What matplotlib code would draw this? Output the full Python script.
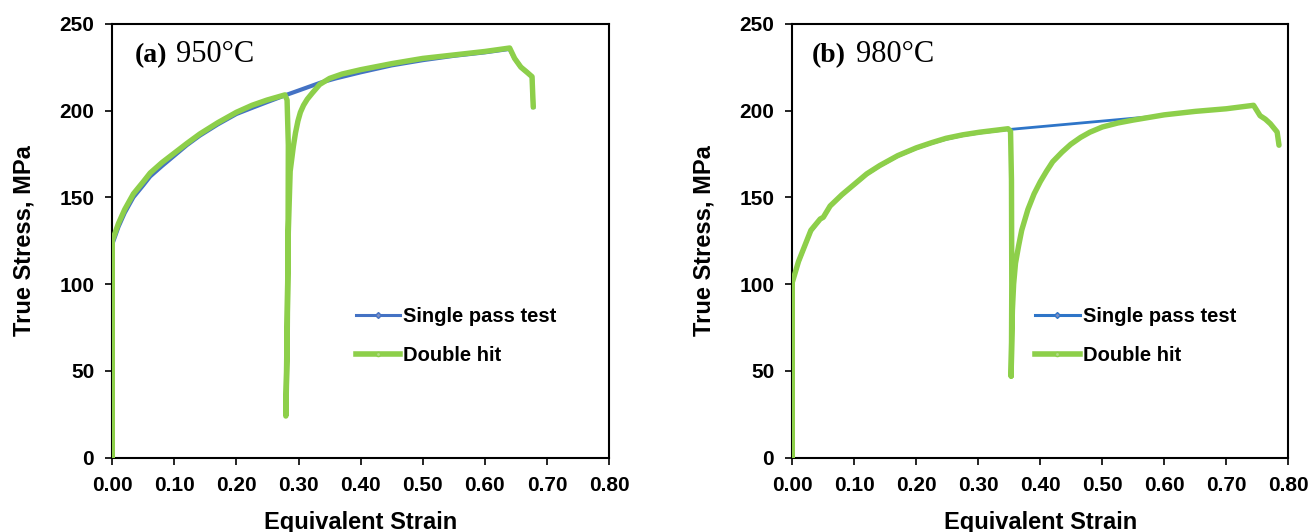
import matplotlib
matplotlib.use("Agg")
import matplotlib.pyplot as plt
from matplotlib.lines import Line2D

# ---------------- data ----------------
# (a) 950 C
single_a_strain = [0, 0, 0.005, 0.01, 0.02, 0.034, 0.05, 0.061, 0.08, 0.10, 0.12, 0.141,
                   0.17, 0.20, 0.225, 0.249, 0.278, 0.30, 0.335, 0.36, 0.40, 0.45, 0.50,
                   0.55, 0.60, 0.64, 0.648, 0.658, 0.668, 0.676, 0.678]
single_a_stress = [0, 123, 128, 133, 141, 150, 157, 162, 168, 174, 180, 185.5,
                   192, 198, 201.5, 204.8, 208.7, 211.5, 216, 218.5, 222, 226, 229,
                   231.5, 233.5, 235.5, 230, 225, 222, 219.5, 202]

double_a_strain = [0, 0, 0.005, 0.01, 0.02, 0.034, 0.05, 0.061, 0.08, 0.10, 0.12, 0.141,
                   0.17, 0.20, 0.225, 0.249, 0.278, 0.2815, 0.2835, 0.283, 0.2815, 0.2795,
                   0.281, 0.2835, 0.2865, 0.2915, 0.295, 0.299, 0.303, 0.308, 0.314,
                   0.322, 0.334, 0.35, 0.37, 0.40, 0.45, 0.50, 0.55, 0.60, 0.62, 0.64,
                   0.648, 0.658, 0.668, 0.676, 0.678]
double_a_stress = [0, 125, 130, 135, 143, 152, 159, 164, 170, 175.5, 181, 186.5,
                   193, 199, 203, 206, 209, 206, 180, 120, 60, 24,
                   60, 130, 165, 179, 187, 194, 199, 203, 206.5,
                   210, 215, 218.5, 221, 223.5, 227, 230, 232, 234, 235, 236,
                   230, 225, 222, 219.5, 202]

# (b) 980 C
single_b_strain = [0, 0, 0.005, 0.01, 0.02, 0.03, 0.045, 0.05, 0.061, 0.08, 0.10, 0.12,
                   0.141, 0.17, 0.20, 0.225, 0.248, 0.275, 0.302, 0.325, 0.348, 0.58,
                   0.62, 0.66, 0.70, 0.744, 0.7545, 0.763, 0.771, 0.782, 0.785]
single_b_stress = [0, 100, 106, 112, 121, 130, 137, 138, 144.4, 151, 157, 163,
                   167.8, 173.5, 178, 181, 183.4, 185.5, 187, 188, 189, 196.5,
                   198.5, 200, 201, 203, 197, 195, 192.4, 187.6, 180]

double_b_strain = [0, 0, 0.005, 0.01, 0.02, 0.03, 0.045, 0.05, 0.061, 0.08, 0.10, 0.12,
                   0.141, 0.17, 0.20, 0.225, 0.248, 0.275, 0.302, 0.325, 0.348, 0.352,
                   0.3535, 0.354, 0.3535, 0.353, 0.3535, 0.355, 0.357, 0.36, 0.365,
                   0.37, 0.38, 0.39, 0.40, 0.41, 0.42, 0.435, 0.449, 0.465, 0.48,
                   0.50, 0.525, 0.55, 0.60, 0.65, 0.70, 0.744, 0.7545, 0.763, 0.771,
                   0.782, 0.785]
double_b_stress = [0, 101, 107, 113, 122, 131, 137.5, 138.5, 145, 151.5, 157.5, 163.5,
                   168.3, 174, 178.5, 181.5, 184, 186, 187.5, 188.5, 189.5, 188,
                   160, 100, 60, 47, 60, 85, 100, 112, 122,
                   131, 143, 152, 159, 165, 170.5, 176, 180.5, 184.5, 187.5,
                   190.5, 192.8, 194.5, 197.5, 199.5, 201, 203, 197, 195, 192.4,
                   187.6, 180]

xticks = [0.0, 0.1, 0.2, 0.3, 0.4, 0.5, 0.6, 0.7, 0.8]
yticks = [0, 50, 100, 150, 200, 250]
legend_labels = ["Single pass test", "Double hit"]
panel_tags = ["(a)", "(b)"]
panel_temps = ["950°C", "980°C"]

# ---------------- styling ----------------
SANS = "Liberation Sans"
SERIF = "Liberation Serif"
GREEN = "#8DCF4A"
BLUE_A = "#4472C4"
BLUE_B = "#2E75C8"

fig = plt.figure(figsize=(13.12, 5.32), dpi=100)
ax_a = fig.add_axes([112.3 / 1312, 74.3 / 532, 496.7 / 1312, 434 / 532])
ax_b = fig.add_axes([792.3 / 1312, 74.3 / 532, 496 / 1312, 434 / 532])

panels = [
    (ax_a, single_a_strain, single_a_stress, double_a_strain, double_a_stress, BLUE_A, 3.0),
    (ax_b, single_b_strain, single_b_stress, double_b_strain, double_b_stress, BLUE_B, 2.0),
]

for i, (ax, ss, sv, ds, dv, bcol, blw) in enumerate(panels):
    ax.plot(ss, sv, color=bcol, lw=blw, solid_joinstyle="round", zorder=2)
    ax.plot(ds, dv, color=GREEN, lw=3.9, solid_joinstyle="round",
            solid_capstyle="round", zorder=3)
    ax.set_xlim(0, 0.8)
    ax.set_ylim(0, 250)
    ax.set_xticks(xticks)
    ax.set_yticks(yticks)
    ax.set_xticklabels([f"{t:.2f}" for t in xticks])
    ax.set_yticklabels([str(t) for t in yticks])
    for lab in ax.get_xticklabels() + ax.get_yticklabels():
        lab.set_fontfamily(SANS)
        lab.set_fontweight("bold")
        lab.set_fontsize(15)
    ax.tick_params(axis="x", direction="out", length=5, width=1.2,
                   color="black", pad=8)
    ax.tick_params(axis="y", direction="out", length=5, width=1.2,
                   color="black", pad=8)
    for sp in ax.spines.values():
        sp.set_linewidth(1.5)
        sp.set_color("black")
    ax.set_xlabel("Equivalent Strain", fontfamily=SANS, fontweight="bold",
                  fontsize=17, labelpad=12)
    ax.set_ylabel("True Stress, MPa", fontfamily=SANS, fontweight="bold",
                  fontsize=17, labelpad=17)

    handles = [
        Line2D([], [], color=bcol, lw=2.2, marker="D", markersize=3,
               markerfacecolor="#7f8fc0", markeredgecolor=bcol),
        Line2D([], [], color=GREEN, lw=4.0, marker="o", markersize=3,
               markerfacecolor="#b5dc8a", markeredgecolor=GREEN),
    ]
    ax.legend(handles, legend_labels, loc="center left",
              bbox_to_anchor=(0.49, 0.28), frameon=False,
              prop={"family": SANS, "weight": "bold", "size": 14.5},
              handlelength=2.2, handletextpad=0.15, labelspacing=1.0,
              borderaxespad=0, borderpad=0)

    ax.text(0.046 if i == 0 else 0.04, 0.912, panel_tags[i], transform=ax.transAxes,
            fontfamily=SERIF, fontweight="bold", fontsize=20, va="baseline", ha="left")
    ax.text(0.128, 0.912, panel_temps[i], transform=ax.transAxes,
            fontfamily=SERIF, fontsize=22, va="baseline", ha="left")

fig.savefig("out.png", dpi=100)
